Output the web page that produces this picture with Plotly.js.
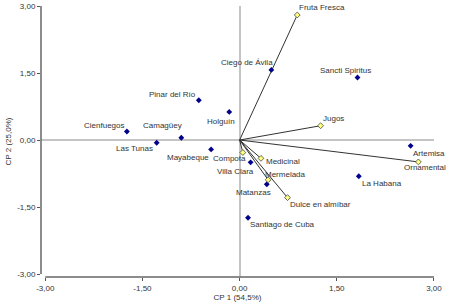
<!DOCTYPE html>
<html>
<head>
<meta charset="utf-8">
<script src="https://cdn.plot.ly/plotly-3.0.1.min.js"></script>
<style>html,body{margin:0;padding:0;background:#fff;}#chart{width:450px;height:303px;}</style>
</head>
<body>
<div id="chart"></div>
<script>
// Provinces (scores)
var provinces = ["Cienfuegos","Camagüey","Las Tunas","Pinar del Río","Holguín","Mayabeque","Ciego de Ávila","Sancti Spiritus","Artemisa","La Habana","Villa Clara","Matanzas","Santiago de Cuba"];
var provX = [-1.74,-0.90,-1.28,-0.63,-0.16,-0.44,0.49,1.82,2.64,1.84,0.17,0.42,0.13];
var provY = [0.19,0.05,-0.06,0.89,0.63,-0.21,1.57,1.40,-0.13,-0.81,-0.50,-0.99,-1.74];
// Variables (loadings)
var variables = ["Fruta Fresca","Jugos","Ornamental","Medicinal","Mermelada","Dulce en almíbar","Compota"];
var varX = [0.89,1.25,2.76,0.33,0.44,0.74,0.05];
var varY = [2.80,0.32,-0.49,-0.41,-0.89,-1.29,-0.28];
// Axis ticks
var tickVals = [-3,-1.5,0,1.5,3];
var tickText = ["-3,00","-1,50","0,00","1,50","3,00"];

// label offsets in pixels (style only)
var provShiftX = [-23,-19,-22,-26,-8,-23,-24,-12,18,23,-15,-13,34];
var provShiftY = [6,12,-6,6,-10,-8,7,7,-8,-7,-9,-8,-7];
var varShiftX = [25,13,7,22,17,33,-13];
var varShiftY = [7,7,-6,-3,5,-7,-6];

var fam = "Liberation Sans, Arial, sans-serif";
var txtFont = {family: fam, size: 8, color: "#333"};

var lx = [], ly = [];
for (var i = 0; i < variables.length; i++) { lx.push(0, varX[i], null); ly.push(0, varY[i], null); }

var traces = [
  {x: lx, y: ly, mode: "lines", line: {color: "#333", width: 1}, hoverinfo: "skip", showlegend: false},
  {x: provX, y: provY, mode: "markers",
   marker: {symbol: "diamond", size: 4.5, color: "#00008b"}, showlegend: false, hoverinfo: "skip", cliponaxis: false},
  {x: varX, y: varY, mode: "markers",
   marker: {symbol: "diamond", size: 4.5, color: "#ffff80", line: {color: "#444", width: 0.8}}, showlegend: false, hoverinfo: "skip", cliponaxis: false}
];

var annotations = [];
provinces.forEach(function(n, i) {
  annotations.push({x: provX[i], y: provY[i], text: n, showarrow: false, xanchor: "center", yanchor: "middle",
    xshift: provShiftX[i], yshift: provShiftY[i], font: txtFont});
});
variables.forEach(function(n, i) {
  annotations.push({x: varX[i], y: varY[i], text: n, showarrow: false, xanchor: "center", yanchor: "middle",
    xshift: varShiftX[i], yshift: varShiftY[i], font: txtFont});
});

var axisCommon = {
  tickmode: "array", tickvals: tickVals, ticktext: tickText,
  showgrid: false, zeroline: true, zerolinecolor: "#c4c4c4", zerolinewidth: 2,
  showline: false, ticks: "outside", ticklen: 3, tickwidth: 1, tickcolor: "#555",
  tickfont: {family: fam, size: 8, color: "#333"}
};

var layout = {
  width: 450, height: 303,
  margin: {l: 41, r: 16, t: 6, b: 26},
  paper_bgcolor: "#fff", plot_bgcolor: "#fff",
  font: {family: fam, size: 8, color: "#333"},
  xaxis: Object.assign({}, axisCommon, {range: [-3.066, 3.001],
    title: {text: "CP 1 (54,5%)", font: {size: 8, color: "#333"}, standoff: 1}}),
  yaxis: Object.assign({}, axisCommon, {range: [-3.067, 3.001],
    title: {text: "CP 2 (25,0%)", font: {size: 8, color: "#333"}, standoff: 4}}),
  annotations: annotations,
  shapes: [
    {type: "line", xref: "paper", yref: "y", x0: 0, x1: 0, y0: tickVals[0], y1: tickVals[tickVals.length-1], line: {color: "#666", width: 1.5}},
    {type: "line", xref: "x", yref: "paper", x0: tickVals[0], x1: tickVals[tickVals.length-1], y0: 0, y1: 0, line: {color: "#666", width: 1.5}}
  ],
  showlegend: false
};

Plotly.newPlot("chart", traces, layout, {staticPlot: true, displayModeBar: false});
</script>
</body>
</html>
